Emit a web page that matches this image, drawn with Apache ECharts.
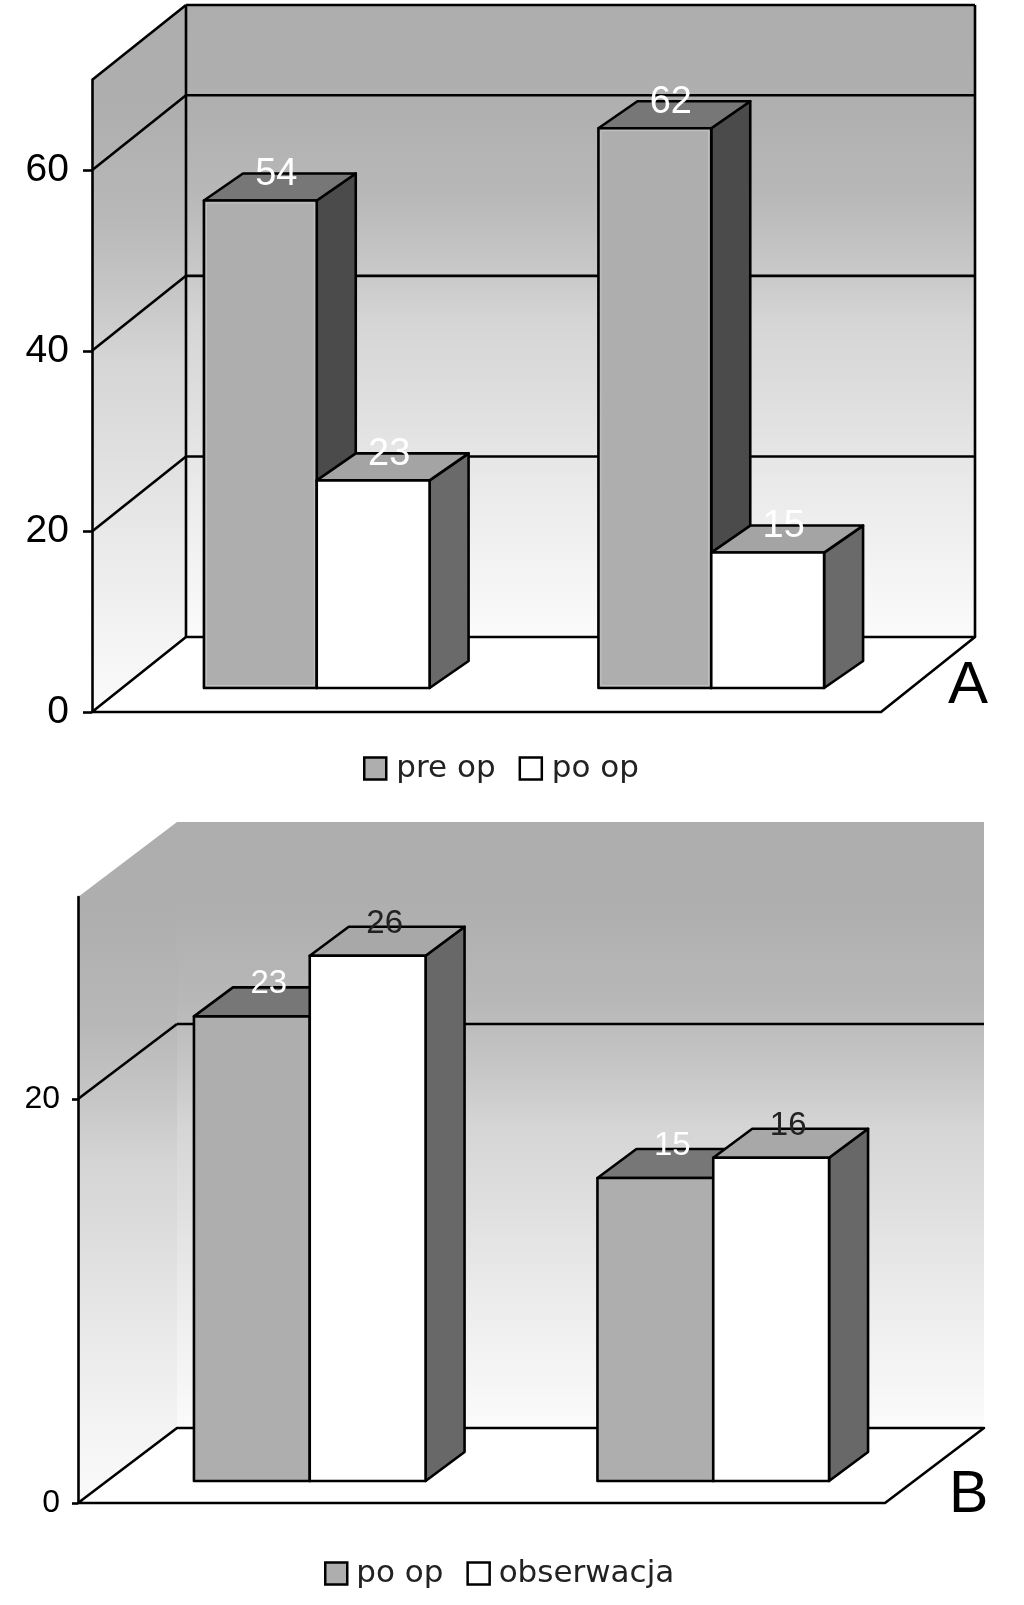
<!DOCTYPE html>
<html>
<head>
<meta charset="utf-8">
<style>html,body{margin:0;padding:0;background:#fff}#c{width:1024px;height:1605px}</style>
<script src="https://cdn.jsdelivr.net/npm/echarts@6/dist/echarts.min.js"></script>
</head>
<body>
<div id="c"></div>
<script>
const categoriesA = ['1', '2'];
const preOpA = [54, 62];
const poOpA = [23, 15];
const ticksA = [0, 20, 40, 60];
const maxA = 70;

const categoriesB = ['1', '2'];
const poOpB = [23, 15];
const obserwacjaB = [26, 16];
const ticksB = [0, 20];
const maxB = 30;

const chart = echarts.init(document.getElementById('c'), null, {renderer: 'canvas'});

const wallStops = [
  {offset: 0, color: '#adadad'}, {offset: .15, color: '#afafaf'}, {offset: .3, color: '#b8b8b8'},
  {offset: .42, color: '#c8c8c8'}, {offset: .5, color: '#d5d5d5'}, {offset: .62, color: '#dedede'},
  {offset: .75, color: '#e9e9e9'}, {offset: .9, color: '#f4f4f4'}, {offset: 1, color: '#fbfbfb'}
];
const wallFill = () => new echarts.graphic.LinearGradient(0, 0, 0, 1, wallStops);
const LW = 2.6;
const LINE = {stroke: '#000', lineWidth: LW, fill: null};

function frameOf(api, p) {
  const band = api.size([1, 0])[0];
  const base = api.coord([0, 0]);
  const left = base[0] - band / 2;
  const right = left + 2 * band;
  return {band, left, right, y0: base[1], yTop: api.coord([0, p.max])[1]};
}
function poly(points, style) {
  return {type: 'polygon', shape: {points}, style};
}
function seg(x1, y1, x2, y2) {
  return {type: 'line', shape: {x1, y1, x2, y2}, style: LINE};
}

function wallSeries(p) {
  return {
    type: 'custom', xAxisIndex: p.idx, yAxisIndex: p.idx, z: 1, clip: false, silent: true,
    data: [[0, 0]],
    renderItem(params, api) {
      const f = frameOf(api, p), dx = p.dx, dy = p.dy;
      const kids = [
        poly([[f.left + dx, f.yTop - dy], [f.right + dx, f.yTop - dy], [f.right + dx, f.y0 - dy], [f.left + dx, f.y0 - dy]], {fill: wallFill()}),
        poly([[f.left, f.yTop], [f.left + dx, f.yTop - dy], [f.left + dx, f.y0 - dy], [f.left, f.y0]], {fill: wallFill()}),
        poly([[f.left, f.y0], [f.left + dx, f.y0 - dy], [f.right + dx, f.y0 - dy], [f.right, f.y0]], {fill: '#fff', stroke: '#000', lineWidth: LW, lineJoin: 'round'})
      ];
      if (p.framed) {
        kids.push(seg(f.left, f.yTop, f.left + dx, f.yTop - dy));
        kids.push(seg(f.left + dx, f.yTop - dy, f.right + dx, f.yTop - dy));
        kids.push(seg(f.left + dx, f.yTop - dy, f.left + dx, f.y0 - dy));
        kids.push(seg(f.right + dx, f.yTop - dy, f.right + dx, f.y0 - dy));
      }
      return {type: 'group', children: kids};
    }
  };
}
function gridLineSeries(p) {
  return {
    type: 'custom', xAxisIndex: p.idx, yAxisIndex: p.idx, z: 2, clip: false, silent: true,
    data: p.ticks.filter(t => t > 0).map(t => [0, t]),
    renderItem(params, api) {
      const f = frameOf(api, p), y = api.coord([0, api.value(1)])[1];
      return {type: 'group', children: [
        seg(f.left, y, f.left + p.dx, y - p.dy),
        seg(f.left + p.dx, y - p.dy, f.right + p.dx, y - p.dy)
      ]};
    }
  };
}
function barSeries(p, name, values, sub, s) {
  return {
    type: 'custom', name, xAxisIndex: p.idx, yAxisIndex: p.idx, z: 3 + sub, clip: false, silent: true,
    data: values.map((v, i) => [i, v]),
    renderItem(params, api) {
      const band = api.size([1, 0])[0], w = band * p.barFrac;
      const a = api.coord([api.value(0), 0]), b = api.coord([api.value(0), api.value(1)]);
      const x0 = a[0] + p.barOx - w + sub * w, x1 = x0 + w;
      const yB = a[1] - p.barOy, yT = b[1] - p.barOy;
      const ddx = p.barDx, ddy = p.barDy;
      const st = f => ({fill: f, stroke: '#000', lineWidth: LW, lineJoin: 'round'});
      const kids = [
        poly([[x1, yT], [x1 + ddx, yT - ddy], [x1 + ddx, yB - ddy], [x1, yB]], st(s.side)),
        poly([[x0, yT], [x0 + ddx, yT - ddy], [x1 + ddx, yT - ddy], [x1, yT]], st(s.top)),
        poly([[x0, yT], [x1, yT], [x1, yB], [x0, yB]], st(s.front))
      ];
      if (p.innerLine && s.front !== '#fff') {
        kids.push({type: 'rect', shape: {x: x0 + 2.5, y: yT + 2.5, width: w - 5, height: yB - yT - 5},
          style: {fill: null, stroke: '#c4c4c4', lineWidth: 1}});
      }
      kids.push({type: 'text', z2: 50, style: {
        text: String(api.value(1)), x: (x0 + x1) / 2 + p.labelDx, y: yT - ddy + p.labelDy,
        fill: s.label, font: p.labelFont, textAlign: 'center', textVerticalAlign: 'middle'
      }});
      return {type: 'group', children: kids};
    }
  };
}

const pA = {idx: 0, max: maxA, ticks: ticksA, dx: 94, dy: 75, framed: true, innerLine: true,
  barFrac: .286, barOx: 27.5, barOy: 24, barDx: 39, barDy: 27, labelDx: 16, labelDy: 1,
  labelFont: '38px "Liberation Sans"'};
const pB = {idx: 1, max: maxB, ticks: ticksB, dx: 99, dy: 75, framed: false, innerLine: false,
  barFrac: .287, barOx: 30, barOy: 22, barDx: 39, barDy: 29, labelDx: 17, labelDy: -3,
  labelFont: '33px "Liberation Sans"'};

const greyDark = {front: '#aeaeae', top: '#777777', side: '#4b4b4b', label: '#fff'};
const whiteA = {front: '#fff', top: '#a4a4a4', side: '#6a6a6a', label: '#fff'};
const greyB = {front: '#aeaeae', top: '#777777', side: '#666666', label: '#fff'};
const whiteB = {front: '#fff', top: '#a8a8a8', side: '#686868', label: '#222'};

const yAxisBase = (idx, max, ticks, font, margin, tick, extra) => ({
  type: 'value', gridIndex: idx, min: 0, max, interval: 20, z: 6,
  axisLine: {show: true, onZero: false, lineStyle: {color: '#000', width: LW}},
  axisTick: {show: true, length: tick, customValues: ticks, lineStyle: {color: '#000', width: LW}},
  splitLine: {show: false},
  axisLabel: Object.assign({customValues: ticks, color: '#000', fontFamily: 'Liberation Sans', fontSize: font, margin}, extra)
});
const xAxisBase = (idx, data) => ({
  type: 'category', gridIndex: idx, data, boundaryGap: true,
  axisLine: {show: false}, axisTick: {show: false}, axisLabel: {show: false}
});
const legendBase = (left, top, items, font, gap, pad) => ({
  left, top, padding: 0, orient: 'horizontal', selectedMode: false, icon: 'rect', itemWidth: 22, itemHeight: 22, itemGap: gap,
  data: items.map(it => ({name: it[0], itemStyle: {color: it[1], borderColor: '#000', borderWidth: 2.5}})),
  textStyle: {fontFamily: 'DejaVu Sans', fontSize: font, color: '#222', padding: [0, 0, 4, pad]}
});

chart.setOption({
  animation: false,
  backgroundColor: '#fff',
  grid: [
    {left: 92, top: 80, width: 789, height: 632, containLabel: false},
    {left: 78, top: 897, width: 807, height: 606, containLabel: false}
  ],
  xAxis: [xAxisBase(0, categoriesA), xAxisBase(1, categoriesB)],
  yAxis: [
    yAxisBase(0, maxA, ticksA, 39, 23, 9, {}),
    yAxisBase(1, maxB, ticksB, 32, 18, 6, {padding: [0, 0, 20, 0]})
  ],
  legend: [
    legendBase(363, 753, [['pre op', '#aeaeae'], ['po op', '#fff']], 31, 23, 5),
    legendBase(324, 1558, [['po op', '#aeaeae'], ['obserwacja', '#fff']], 31, 23, 4)
  ],
  graphic: [
    {type: 'text', left: 948, top: 656, style: {text: 'A', font: '60px "Liberation Sans"', fill: '#000'}},
    {type: 'text', left: 949, top: 1466, style: {text: 'B', font: '59px "Liberation Sans"', fill: '#000'}}
  ],
  series: [
    wallSeries(pA), gridLineSeries(pA),
    barSeries(pA, 'pre op', preOpA, 0, greyDark), barSeries(pA, 'po op', poOpA, 1, whiteA),
    wallSeries(pB), gridLineSeries(pB),
    barSeries(pB, 'po op', poOpB, 0, greyB), barSeries(pB, 'obserwacja', obserwacjaB, 1, whiteB)
  ]
});
</script>
</body>
</html>
